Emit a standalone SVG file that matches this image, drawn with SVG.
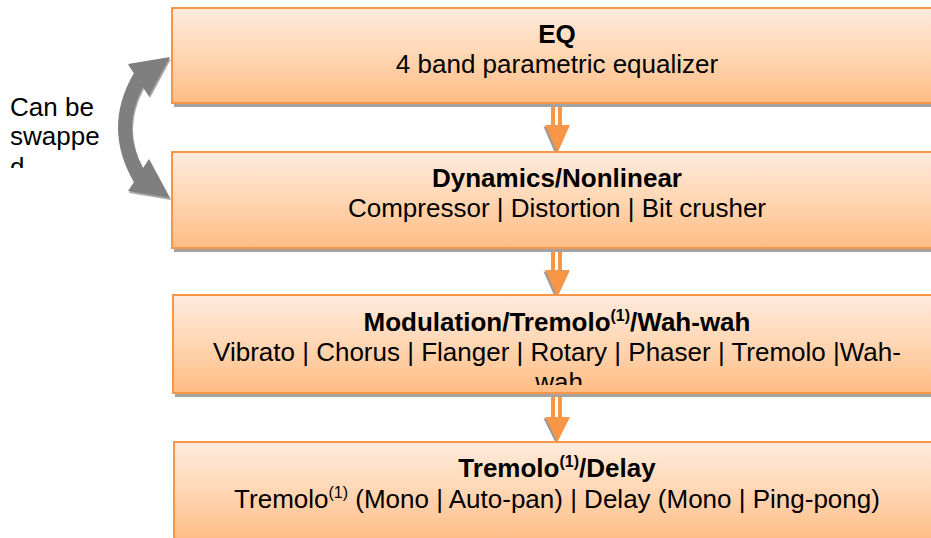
<svg xmlns="http://www.w3.org/2000/svg" width="931" height="538" viewBox="0 0 931 538">
<defs>
<linearGradient id="boxfill" x1="0" y1="0" x2="0" y2="1">
<stop offset="0" stop-color="#FFEBDD"/>
<stop offset="0.5" stop-color="#FFD6B3"/>
<stop offset="1" stop-color="#FFBC84"/>
</linearGradient>
<clipPath id="clip3"><rect x="173" y="295" width="770" height="90"/></clipPath>
<clipPath id="clipL"><rect x="0" y="80" width="170" height="88"/></clipPath>
</defs>
<style>
.box{fill:url(#boxfill);stroke:#F79646;stroke-width:2}
.shadow{fill:#A3A3A3}
.t{font-family:"Liberation Sans",Arial,sans-serif;font-size:26px;fill:#000;text-anchor:middle}
.b{font-weight:bold}
.sup{font-size:16px}
.arr{fill:#F79646}
.arrsh{fill:#9A9A9A}
.l{font-family:"Liberation Sans",Arial,sans-serif;font-size:26px;fill:#000}
</style>

<g id="connectors">
<g id="arrow1">
<polygon class="arrsh" points="543.5,126.5 568.5,126.5 556,155.5"/>
<rect class="arr" x="551" y="103" width="4" height="23"/>
<rect class="arr" x="558" y="103" width="4" height="23"/>
<polygon class="arr" points="545,125 570,125 557.5,153"/>
</g>
<g id="arrow2">
<polygon class="arrsh" points="543.5,271.5 568.5,271.5 556,299.5"/>
<rect class="arr" x="551" y="248" width="4" height="23"/>
<rect class="arr" x="558" y="248" width="4" height="23"/>
<polygon class="arr" points="545,270 570,270 557.5,297"/>
</g>
<g id="arrow3">
<polygon class="arrsh" points="543.5,418.5 568.5,418.5 556,443.5"/>
<rect class="arr" x="551" y="393" width="4" height="25"/>
<rect class="arr" x="558" y="393" width="4" height="25"/>
<polygon class="arr" points="545,417 570,417 557.5,442"/>
</g>
<g id="swap-arrow">
<path fill="#A8A8A8" d="M171,59 L150,98 L144,89 Q122,129.5 144,170 L150,161 L171,200 L129,193 L135,184 Q103,129.5 135,75 L129,66 Z"/>
<path fill="#7F7F7F" d="M170,57 L149,96 L143,87 Q121,127.5 143,168 L149,159 L170,198 L128,191 L134,182 Q102,127.5 134,73 L128,64 Z"/>
</g>
</g>

<g id="swap-label">
<text class="l" x="10" y="116">Can be</text>
<text class="l" x="10" y="145">swappe</text>
<g clip-path="url(#clipL)"><text class="l" x="10" y="176">d</text></g>
</g>

<g id="node-eq">
<rect class="shadow" x="174" y="12" width="770" height="95"/>
<rect class="box" x="172" y="8" width="770" height="95"/>
<text class="t b" x="557" y="42.5">EQ</text>
<text class="t" x="557" y="72.5">4 band parametric equalizer</text>
</g>

<g id="node-dynamics">
<rect class="shadow" x="174" y="156" width="770" height="96"/>
<rect class="box" x="172" y="152" width="770" height="96"/>
<text class="t b" x="557" y="187">Dynamics/Nonlinear</text>
<text class="t" x="557" y="217">Compressor | Distortion | Bit crusher</text>
</g>

<g id="node-modulation">
<rect class="shadow" x="175" y="299" width="770" height="98"/>
<rect class="box" x="173" y="295" width="770" height="98"/>
<g clip-path="url(#clip3)">
<text class="t b" x="557" y="331">Modulation/Tremolo<tspan class="sup" dy="-10">(1)</tspan><tspan dy="10">/Wah-wah</tspan></text>
<text class="t" x="557" y="361">Vibrato | Chorus | Flanger | Rotary | Phaser | Tremolo |Wah-</text>
<text class="t" x="559" y="391">wah</text>
</g>
</g>

<g id="node-delay">
<rect class="shadow" x="176" y="446" width="770" height="100"/>
<rect class="box" x="174" y="442" width="770" height="100"/>
<text class="t b" x="557" y="477">Tremolo<tspan class="sup" dy="-10">(1)</tspan><tspan dy="10">/Delay</tspan></text>
<text class="t" x="557" y="508">Tremolo<tspan class="sup" dy="-10">(1)</tspan><tspan dy="10"> (Mono | Auto-pan) | Delay (Mono | Ping-pong)</tspan></text>
</g>
</svg>
